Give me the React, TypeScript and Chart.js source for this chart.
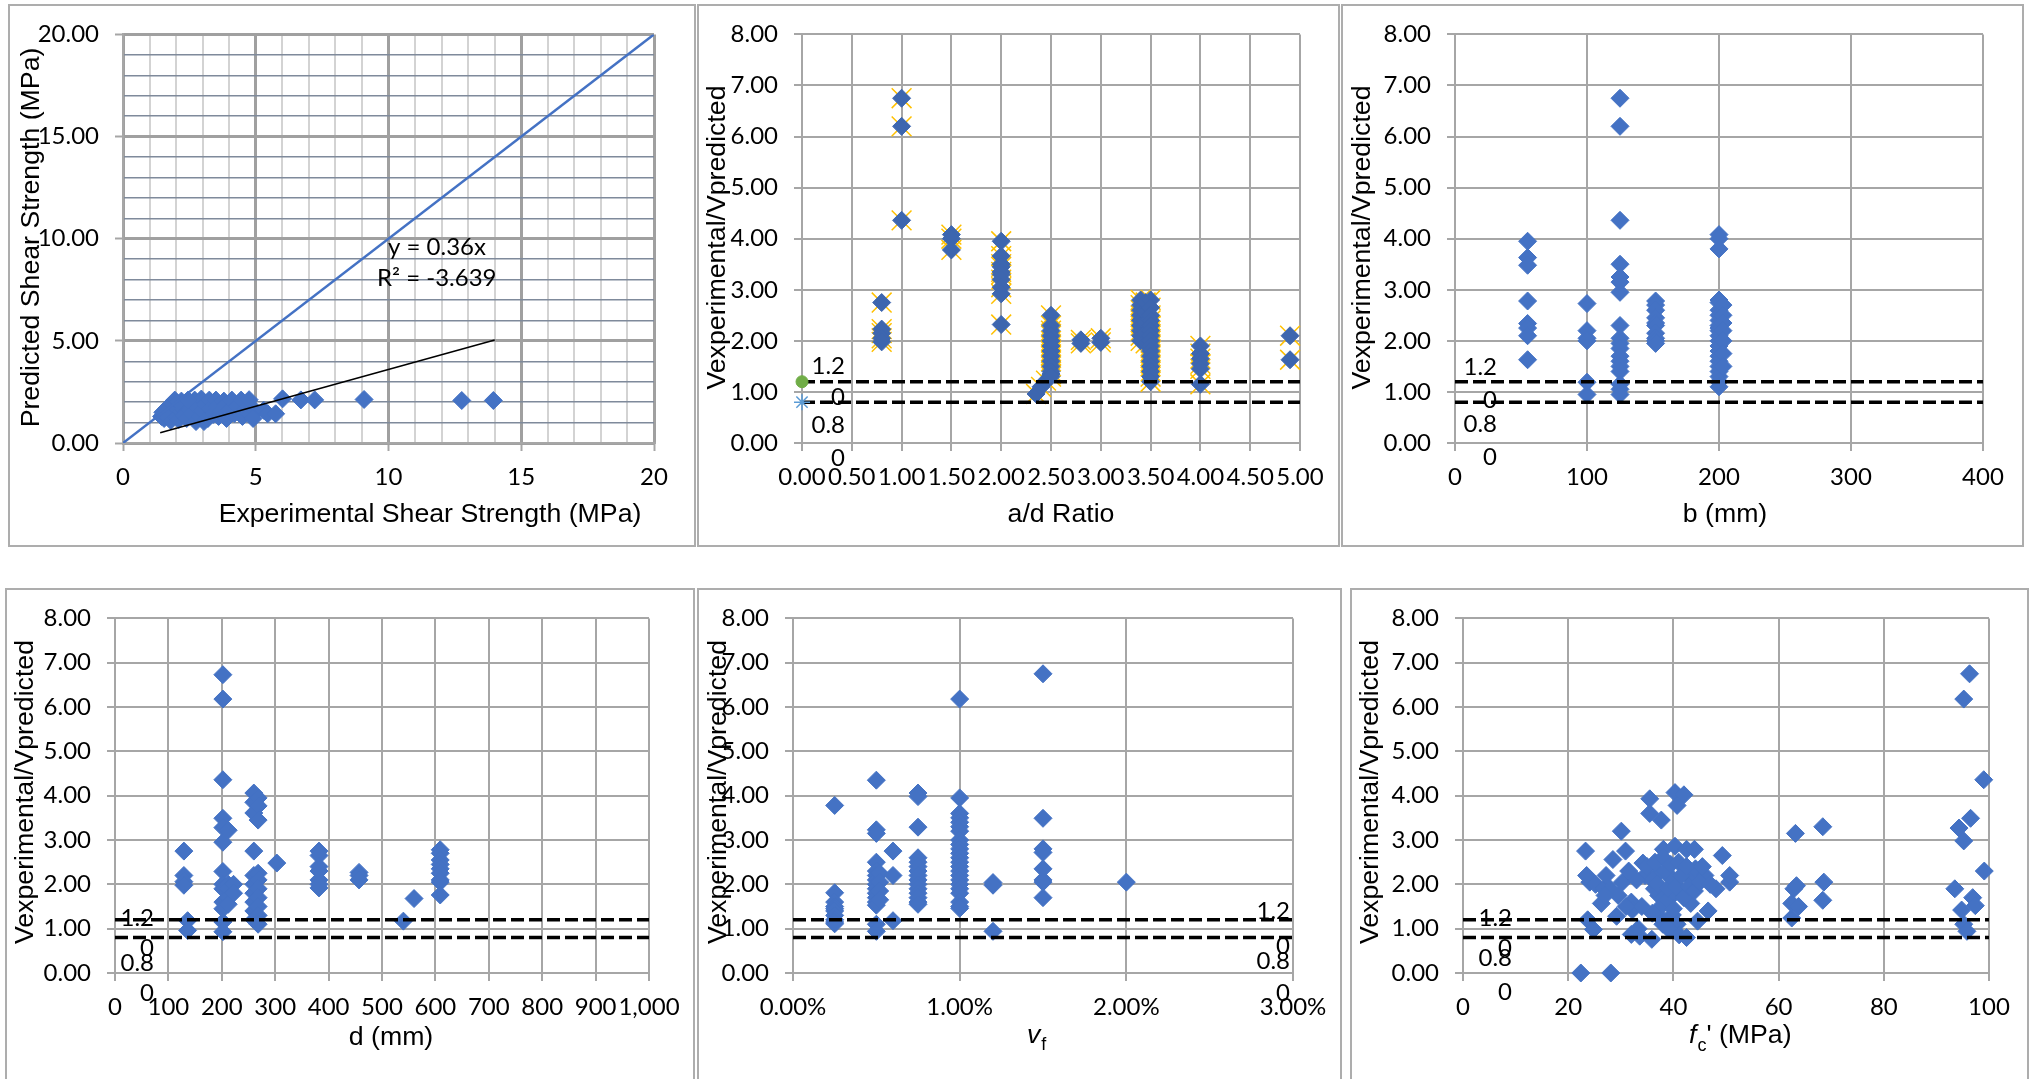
import React, { useEffect, useRef } from 'react';
import { Chart, registerables } from 'chart.js';

Chart.register(...registerables);

// ---------------- Data ----------------
// Panel 1: experimental vs predicted shear strength (MPa)
const expShear = [1.45, 1.55, 1.6, 1.7, 1.75, 1.8, 1.85, 1.9, 1.95, 2.0, 2.05, 2.1, 2.15, 2.2, 2.25, 2.3, 2.35, 2.4, 2.5, 2.6, 2.7, 2.75, 2.8, 2.9, 2.95, 3.0, 3.1, 3.2, 3.25, 3.3, 3.4, 3.5, 3.55, 3.6, 3.7, 3.8, 3.85, 3.9, 4.0, 4.1, 4.2, 4.3, 4.45, 4.5, 4.6, 4.75, 4.8, 5.0, 5.3, 5.45, 5.75, 6.01, 6.7, 7.22, 9.08, 12.76, 13.95, 2.05, 1.65, 2.45, 3.05, 4.9, 1.5];
const predShear = [1.3, 1.2, 1.4, 1.55, 1.25, 1.1, 1.7, 1.4, 2.1, 1.85, 1.3, 1.15, 1.6, 2.05, 1.75, 1.35, 1.95, 1.2, 1.6, 1.45, 2.1, 1.05, 1.75, 1.3, 2.15, 1.55, 1.9, 1.2, 2.1, 1.65, 1.4, 2.1, 1.8, 1.3, 1.55, 2.05, 1.85, 1.2, 1.6, 2.1, 1.45, 1.8, 2.1, 1.3, 1.65, 2.12, 1.4, 1.55, 1.6, 1.43, 1.43, 2.16, 2.11, 2.11, 2.13, 2.08, 2.08, 1.95, 1.7, 2.1, 1.05, 1.2, 1.5];
const unityX = [0, 20];
const unityY = [0, 20];
const trendX = [1.4, 14];
const trendY = [0.5, 5.04];
const trendEquation = 'y = 0.36x';
const trendR2 = 'R² = -3.639';

// Limit lines for Vexperimental/Vpredicted
const limitUpper = 1.2;
const limitLower = 0.8;

// Panel 2: a/d ratio
const adRatio = [0.8, 1.0, 1.5, 2.0, 2.35, 2.4, 2.45, 2.5, 2.8, 3.0, 3.4, 3.45, 3.5, 4.0, 4.9];
const adRatioVals = [
  [2.75, 2.23, 2.15, 2.05, 1.98],
  [6.75, 6.2, 4.36],
  [4.08, 4.0, 3.78],
  [3.95, 3.66, 3.5, 3.45, 3.35, 3.3, 3.2, 3.05, 2.92, 2.32],
  [0.96],
  [1.1],
  [1.22],
  [2.5, 2.3, 2.2, 2.1, 2.0, 1.9, 1.8, 1.7, 1.6, 1.5, 1.4, 1.35, 1.3],
  [2.02, 1.95],
  [2.05, 1.97],
  [2.8, 2.7, 2.6, 2.5, 2.4, 2.3, 2.2, 2.1, 2.0],
  [2.75, 2.55, 2.35, 2.15, 1.95],
  [2.8, 2.65, 2.5, 2.4, 2.3, 2.2, 2.1, 2.0, 1.9, 1.8, 1.7, 1.6, 1.5, 1.4, 1.3, 1.2],
  [1.9, 1.75, 1.65, 1.55, 1.45, 1.15],
  [2.1, 1.63],
];

// Panel 3: b (mm)
const widthB = [55, 100, 125, 152, 200, 203];
const widthBVals = [
  [3.95, 3.63, 3.48, 2.78, 2.34, 2.25, 2.1, 1.63],
  [2.73, 2.2, 2.05, 2.0, 1.19, 0.95],
  [6.75, 6.2, 4.36, 3.5, 3.25, 3.15, 2.95, 2.3, 2.05, 1.95, 1.85, 1.7, 1.6, 1.5, 1.4, 1.15, 1.05, 0.95],
  [2.78, 2.7, 2.6, 2.45, 2.35, 2.3, 2.15, 2.05, 2.0, 1.95],
  [4.08, 4.0, 3.8, 2.8, 2.75, 2.6, 2.5, 2.4, 2.3, 2.25, 2.2, 2.1, 2.0, 1.9, 1.8, 1.7, 1.6, 1.5, 1.4, 1.3, 1.2, 1.1],
  [2.7, 2.5, 2.35, 2.2, 2.0, 1.75, 1.5],
];

// Panel 4: d (mm)
const depthD = [129, 136, 202, 212, 222, 260, 268, 303, 382, 457, 540, 560, 609];
const depthDVals = [
  [2.75, 2.2, 2.06, 1.98],
  [1.18, 0.96],
  [6.73, 6.18, 4.36, 3.49, 3.28, 2.95, 2.29, 2.0, 1.9, 1.6, 1.45, 1.15, 0.93],
  [3.22, 2.0, 1.9, 1.7, 1.55],
  [2.0, 1.8],
  [4.06, 3.85, 3.61, 2.75, 2.2, 2.0, 1.8, 1.6, 1.4, 1.2],
  [3.95, 3.77, 3.45, 2.25, 2.1, 1.9, 1.7, 1.5, 1.3, 1.1],
  [2.48],
  [2.75, 2.65, 2.4, 2.3, 2.1, 2.0, 1.92],
  [2.27, 2.2, 2.1],
  [1.17],
  [1.68],
  [2.78, 2.7, 2.55, 2.45, 2.35, 2.25, 2.1, 2.05, 1.76],
];

// Panel 5: fibre volume fraction vf (%)
const fibreVf = [0.25, 0.5, 0.52, 0.6, 0.75, 1.0, 1.2, 1.5, 2.0];
const fibreVfVals = [
  [3.78, 1.81, 1.6, 1.5, 1.45, 1.4, 1.3, 1.2, 1.15, 1.11],
  [4.35, 3.23, 3.15, 2.5, 2.3, 2.2, 2.1, 2.0, 1.9, 1.8, 1.7, 1.6, 1.53, 1.1, 0.94],
  [2.25, 2.05, 1.85, 1.65],
  [2.75, 2.2, 1.18],
  [4.06, 3.98, 3.29, 2.6, 2.5, 2.4, 2.3, 2.2, 2.1, 2.0, 1.9, 1.8, 1.7, 1.6, 1.55],
  [6.18, 3.95, 3.6, 3.5, 3.4, 3.3, 3.2, 3.0, 2.9, 2.8, 2.7, 2.6, 2.5, 2.4, 2.3, 2.2, 2.1, 2.0, 1.9, 1.8, 1.6, 1.5, 1.46],
  [2.04, 1.98, 0.94],
  [6.75, 3.49, 2.8, 2.72, 2.35, 2.1, 2.05, 1.7],
  [2.05],
];

// Panel 6: fc' (MPa)
const fcX = [22.4, 28.1, 23.3, 23.5, 24.1, 23.7, 24.8, 25.2, 26.3, 26.8, 27.2, 28.5, 29.2, 30.1, 30.9, 30.3, 29.5, 32.0, 32.2, 32.0, 33.3, 33.6, 35.9, 34.2, 34.6, 35.5, 35.5, 37.7, 37.2, 37.7, 38.1, 39.0, 39.8, 40.3, 40.7, 42.0, 40.3, 40.7, 41.1, 42.5, 42.5, 44.0, 43.3, 44.2, 44.6, 43.3, 46.0, 46.6, 48.1, 49.3, 50.7, 50.7, 37.2, 36.4, 38.5, 39.8, 41.6, 37.2, 35, 36, 36.5, 37, 38, 38.5, 39, 39.5, 40, 40.5, 41, 41.5, 42, 42.5, 43, 44, 45, 45.5, 47, 38, 39, 40, 36, 34, 33, 31.5, 31, 28, 27, 62.5, 62.5, 62.9, 63.4, 63.8, 63.2, 68.4, 68.6, 68.4, 93.5, 94.3, 95.2, 95.2, 96.3, 96.5, 99.0, 99.1, 96.9, 97.4, 94.8, 95.2, 95.8];
const fcY = [0.0, 0.0, 2.75, 2.2, 2.05, 1.2, 0.98, 2.0, 1.57, 1.9, 2.2, 2.56, 1.28, 3.2, 2.75, 2.05, 1.75, 1.6, 1.42, 0.87, 1.0, 0.83, 0.76, 2.48, 2.2, 3.93, 3.6, 3.45, 1.75, 1.23, 2.79, 2.2, 1.75, 4.07, 3.78, 4.02, 2.86, 1.1, 0.86, 0.8, 2.79, 2.79, 2.12, 2.35, 1.17, 1.57, 2.2, 1.4, 1.9, 2.65, 2.05, 2.2, 2.27, 1.9, 1.6, 1.31, 1.83, 1.45, 2.4, 2.1, 2.5, 2.0, 2.6, 2.3, 1.9, 2.45, 2.1, 1.95, 2.5, 2.2, 1.7, 2.4, 1.95, 1.85, 2.05, 2.4, 2.0, 1.1, 1.0, 1.45, 1.35, 1.5, 2.1, 2.3, 1.5, 1.9, 1.75, 1.24, 1.57, 1.9, 1.97, 1.5, 3.15, 3.3, 2.05, 1.64, 1.9, 3.27, 2.98, 6.18, 6.75, 3.49, 4.36, 2.3, 1.7, 1.52, 1.42, 1.1, 0.94];

// ---------------- Helpers ----------------
const BLUE = '#4472C4';
const GRID = '#A6A6A6';
const TITLE_FONT = '26.7px "Liberation Sans", Arial, sans-serif';
const LABEL_FONT = '24px Lato, "Liberation Sans", sans-serif';
const TICK_FONT = { family: 'Lato, "Liberation Sans", sans-serif', size: 24 };
const RATIO_TITLE = 'Vexperimental/Vpredicted';

const pts = (xs: number[], ys: number[]) => xs.map((x, i) => ({ x, y: ys[i] }));
const groupPts = (xs: number[], vals: number[][]) => xs.flatMap((x, i) => vals[i].map((y) => ({ x, y })));

const diamonds = (data: any[], color = BLUE) => ({
  data,
  showLine: false,
  pointStyle: 'rectRot',
  pointRadius: 9,
  pointHoverRadius: 9,
  pointBackgroundColor: color,
  pointBorderColor: color,
  pointBorderWidth: 1,
  clip: false,
  order: 2,
});

const limitLine = (xmin: number, xmax: number, v: number) => ({
  data: [{ x: xmin, y: v }, { x: xmax, y: v }],
  showLine: true,
  borderColor: '#000',
  borderWidth: 3.5,
  borderDash: [13, 5],
  pointRadius: 0,
  fill: false,
  order: 0,
});

function text(ctx: CanvasRenderingContext2D, s: string, x: number, y: number, font: string, align: CanvasTextAlign = 'center') {
  ctx.save();
  ctx.font = font;
  ctx.fillStyle = '#000';
  ctx.textAlign = align;
  ctx.textBaseline = 'middle';
  ctx.fillText(s, x, y);
  ctx.restore();
}

function vtext(ctx: CanvasRenderingContext2D, s: string, x: number, y: number) {
  ctx.save();
  ctx.translate(x, y);
  ctx.rotate(-Math.PI / 2);
  ctx.font = TITLE_FONT;
  ctx.fillStyle = '#000';
  ctx.textAlign = 'center';
  ctx.textBaseline = 'middle';
  ctx.fillText(s, 0, 0);
  ctx.restore();
}

type Box = { left: number; top: number; width: number; height: number; borderH: number };
type Plot = { left: number; top: number; right: number; bottom: number };
type LimitCfg = { at: number; right: number; dy: number[] };
type Panel = {
  key: string;
  box: Box;
  plot: Plot;
  x: { min: number; max: number; step: number; fmt: (v: number) => string };
  y: { min: number; max: number; step: number; fmt: (v: number) => string };
  minorGrid?: boolean;
  datasets: any[];
  limit?: LimitCfg;
  draw: (ctx: CanvasRenderingContext2D, ax: (v: number) => number, ay: (v: number) => number) => void;
};

function drawLimitLabels(ctx: CanvasRenderingContext2D, cfg: LimitCfg, ax: (v: number) => number, ay: (v: number) => number) {
  const xr = ax(cfg.at) + cfg.right;
  const split = (v: number) => {
    const s = v.toFixed(2);
    return [s.slice(0, 3), s.slice(3)];
  };
  const [u1, u2] = split(limitUpper);
  const [l1, l2] = split(limitLower);
  text(ctx, u1, xr, ay(limitUpper) + cfg.dy[0], LABEL_FONT, 'right');
  text(ctx, u2, xr, ay(limitUpper) + cfg.dy[1], LABEL_FONT, 'right');
  text(ctx, l1, xr, ay(limitLower) + cfg.dy[2], LABEL_FONT, 'right');
  text(ctx, l2, xr, ay(limitLower) + cfg.dy[3], LABEL_FONT, 'right');
}

const fmt2 = (v: number) => v.toFixed(2);
const ratioY = { min: 0, max: 8, step: 1, fmt: fmt2 };

// ---------------- Panels ----------------
const panels: Panel[] = [
  {
    key: 'p1',
    box: { left: 8, top: 4, width: 688, height: 543, borderH: 543 },
    plot: { left: 123, top: 32, right: 654, bottom: 443 },
    x: { min: 0, max: 20, step: 1, fmt: (v) => (v % 5 === 0 ? String(v) : '') },
    y: { min: 0, max: 20, step: 1, fmt: (v) => (v % 5 === 0 ? v.toFixed(2) : '') },
    minorGrid: true,
    datasets: [
      diamonds(pts(expShear, predShear)),
      { data: pts(unityX, unityY), showLine: true, borderColor: BLUE, borderWidth: 2.5, pointRadius: 0, order: 1 },
      { data: pts(trendX, trendY), showLine: true, borderColor: '#000', borderWidth: 1.5, pointRadius: 0, order: 0 },
    ],
    draw: (ctx) => {
      vtext(ctx, 'Predicted Shear Strength (MPa)', 31.5, 237.5);
      text(ctx, 'Experimental Shear Strength (MPa)', 430, 515, TITLE_FONT);
      text(ctx, trendEquation, 388, 247, LABEL_FONT, 'left');
      text(ctx, trendR2, 377, 278, LABEL_FONT, 'left');
    },
  },
  {
    key: 'p2',
    box: { left: 697, top: 4, width: 643, height: 543, borderH: 543 },
    plot: { left: 802, top: 32, right: 1300, bottom: 443 },
    x: { min: 0, max: 5, step: 0.5, fmt: fmt2 },
    y: ratioY,
    datasets: [
      limitLine(0, 5, limitUpper),
      limitLine(0, 5, limitLower),
      { ...diamonds(groupPts(adRatio, adRatioVals), '#3D66AF'), order: 2 },
      {
        data: groupPts(adRatio, adRatioVals),
        showLine: false,
        pointStyle: 'crossRot',
        pointRadius: 14,
        pointBorderColor: '#FFC000',
        pointBorderWidth: 1.5,
        clip: false,
        order: 3,
      },
      { data: [{ x: 0, y: limitUpper }], showLine: false, pointStyle: 'circle', pointRadius: 6, pointBackgroundColor: '#70AD47', pointBorderColor: '#70AD47', clip: false, order: -1 },
      { data: [{ x: 0, y: limitLower }], showLine: false, pointStyle: 'star', pointRadius: 8, pointBorderColor: '#5B9BD5', pointBorderWidth: 1.5, clip: false, order: -1 },
    ],
    limit: { at: 0, right: 43, dy: [-15, 16, 23, 56] },
    draw: (ctx) => {
      vtext(ctx, RATIO_TITLE, 718, 237.5);
      text(ctx, 'a/d Ratio', 1061, 515, TITLE_FONT);
    },
  },
  {
    key: 'p3',
    box: { left: 1341, top: 4, width: 683, height: 543, borderH: 543 },
    plot: { left: 1455, top: 32, right: 1983, bottom: 443 },
    x: { min: 0, max: 400, step: 100, fmt: (v) => String(v) },
    y: ratioY,
    datasets: [limitLine(0, 400, limitUpper), limitLine(0, 400, limitLower), diamonds(groupPts(widthB, widthBVals))],
    limit: { at: 0, right: 42, dy: [-14, 19, 22, 55] },
    draw: (ctx) => {
      vtext(ctx, RATIO_TITLE, 1363, 237.5);
      text(ctx, 'b (mm)', 1725, 515, TITLE_FONT);
    },
  },
  {
    key: 'p4',
    box: { left: 5, top: 588, width: 690, height: 491, borderH: 510 },
    plot: { left: 115, top: 611, right: 649, bottom: 973 },
    x: { min: 0, max: 1000, step: 100, fmt: (v) => v.toLocaleString('en-US') },
    y: ratioY,
    datasets: [limitLine(0, 1000, limitUpper), limitLine(0, 1000, limitLower), diamonds(groupPts(depthD, depthDVals))],
    limit: { at: 0, right: 39, dy: [-2, 28, 26, 56] },
    draw: (ctx) => {
      vtext(ctx, RATIO_TITLE, 26, 792);
      text(ctx, 'd (mm)', 391, 1038, TITLE_FONT);
    },
  },
  {
    key: 'p5',
    box: { left: 697, top: 588, width: 645, height: 491, borderH: 510 },
    plot: { left: 793, top: 611, right: 1293, bottom: 973 },
    x: { min: 0, max: 3, step: 1, fmt: (v) => v.toFixed(2) + '%' },
    y: ratioY,
    datasets: [limitLine(0, 3, limitUpper), limitLine(0, 3, limitLower), diamonds(groupPts(fibreVf, fibreVfVals))],
    limit: { at: 3, right: -3, dy: [-9, 26, 24, 56] },
    draw: (ctx) => {
      vtext(ctx, RATIO_TITLE, 718.5, 792);
      ctx.save();
      ctx.fillStyle = '#000';
      ctx.textBaseline = 'middle';
      ctx.textAlign = 'left';
      ctx.font = 'italic 26.7px "Liberation Sans", Arial, sans-serif';
      const vw = ctx.measureText('v').width;
      const x0 = 1027;
      ctx.fillText('v', x0, 1036);
      ctx.font = '18px "Liberation Sans", Arial, sans-serif';
      ctx.fillText('f', x0 + vw + 1, 1045);
      ctx.restore();
    },
  },
  {
    key: 'p6',
    box: { left: 1350, top: 588, width: 679, height: 491, borderH: 510 },
    plot: { left: 1463, top: 611, right: 1989, bottom: 973 },
    x: { min: 0, max: 100, step: 20, fmt: (v) => String(v) },
    y: ratioY,
    datasets: [limitLine(0, 100, limitUpper), limitLine(0, 100, limitLower), diamonds(pts(fcX, fcY))],
    limit: { at: 0, right: 49, dy: [-2, 28, 21, 55] },
    draw: (ctx) => {
      vtext(ctx, RATIO_TITLE, 1371, 792);
      ctx.save();
      ctx.fillStyle = '#000';
      ctx.textBaseline = 'middle';
      ctx.textAlign = 'left';
      let x = 1689;
      ctx.font = 'italic 26.7px "Liberation Sans", Arial, sans-serif';
      ctx.fillText('f', x, 1036);
      x += ctx.measureText('f').width + 1;
      ctx.font = '18px "Liberation Sans", Arial, sans-serif';
      ctx.fillText('c', x, 1046);
      x += ctx.measureText('c').width;
      ctx.font = TITLE_FONT;
      ctx.fillText("' (MPa)", x, 1036);
      ctx.restore();
    },
  },
];

function buildConfig(p: Panel): any {
  const { box, plot } = p;
  const yAxisWidth = plot.left - box.left;
  const xAxisHeight = box.top + box.height - plot.bottom;
  const isMajorX = (v: number) => !p.minorGrid || v % 5 === 0;
  const isMajorY = (v: number) => !p.minorGrid || v % 5 === 0;
  const extras = {
    id: 'extras' + p.key,
    afterDraw(chart: any) {
      const ctx = chart.ctx as CanvasRenderingContext2D;
      const ax = (v: number) => chart.scales.x.getPixelForValue(v) + box.left;
      const ay = (v: number) => chart.scales.y.getPixelForValue(v) + box.top;
      ctx.save();
      ctx.translate(-box.left, -box.top);
      if (p.limit) drawLimitLabels(ctx, p.limit, ax, ay);
      p.draw(ctx, ax, ay);
      ctx.restore();
    },
  };
  return {
    type: 'scatter',
    data: { datasets: p.datasets },
    options: {
      responsive: false,
      animation: false,
      devicePixelRatio: 1,
      events: [],
      layout: { padding: { left: 0, top: plot.top - box.top, right: box.left + box.width - plot.right, bottom: 0 } },
      plugins: { legend: { display: false }, tooltip: { enabled: false } },
      scales: {
        x: {
          type: 'linear',
          position: 'bottom',
          min: p.x.min,
          max: p.x.max,
          afterFit: (s: any) => {
            s.height = xAxisHeight;
          },
          ticks: {
            stepSize: p.x.step,
            autoSkip: false,
            maxRotation: 0,
            minRotation: 0,
            padding: 12,
            color: '#000',
            font: TICK_FONT,
            callback: (v: any) => p.x.fmt(Number(v)),
          },
          grid: {
            color: (c: any) => (p.minorGrid ? (isMajorX(c.tick?.value ?? 0) ? '#A0A0A0' : '#D3D3D3') : GRID),
            lineWidth: (c: any) => (p.minorGrid ? (isMajorX(c.tick?.value ?? 0) ? 3 : 2) : 2),
            tickLength: 8,
            tickColor: (c: any) => (isMajorX(c.tick?.value ?? 0) ? GRID : 'rgba(0,0,0,0)'),
            tickWidth: 2,
          },
          border: { display: true, color: GRID, width: 2 },
        },
        y: {
          type: 'linear',
          position: 'left',
          min: p.y.min,
          max: p.y.max,
          afterFit: (s: any) => {
            s.width = yAxisWidth;
          },
          ticks: {
            stepSize: p.y.step,
            autoSkip: false,
            padding: 16,
            color: '#000',
            font: TICK_FONT,
            callback: (v: any) => p.y.fmt(Number(v)),
          },
          grid: {
            color: (c: any) => {
              const v = c.tick?.value ?? 0;
              if (p.minorGrid) return isMajorY(v) ? '#A0A0A0' : '#7F8A9B';
              return GRID;
            },
            lineWidth: (c: any) => (p.minorGrid ? (isMajorY(c.tick?.value ?? 0) ? 3 : 1.5) : 2),
            tickLength: 8,
            tickColor: (c: any) => (isMajorY(c.tick?.value ?? 0) ? GRID : 'rgba(0,0,0,0)'),
            tickWidth: 2,
          },
          border: { display: true, color: GRID, width: 2 },
        },
      },
    },
    plugins: [extras],
  };
}

function PanelChart({ panel }: { panel: Panel }) {
  const ref = useRef<HTMLCanvasElement>(null);
  useEffect(() => {
    const canvas = ref.current;
    if (!canvas) return;
    const chart = new Chart(canvas, buildConfig(panel));
    return () => chart.destroy();
  }, [panel]);
  const b = panel.box;
  return (
    <>
      <canvas
        ref={ref}
        width={b.width}
        height={b.height}
        style={{ position: 'absolute', left: b.left, top: b.top, width: b.width, height: b.height }}
      />
      <div
        style={{
          position: 'absolute',
          left: b.left,
          top: b.top,
          width: b.width,
          height: b.borderH,
          border: '2px solid #ADADAD',
          boxSizing: 'border-box',
          pointerEvents: 'none',
        }}
      />
    </>
  );
}

export default function App() {
  return (
    <div
      style={{
        position: 'absolute',
        left: 0,
        top: 0,
        width: 2029,
        height: 1079,
        overflow: 'hidden',
        background: '#fff',
      }}
    >
      {panels.map((p) => (
        <PanelChart key={p.key} panel={p} />
      ))}
    </div>
  );
}
